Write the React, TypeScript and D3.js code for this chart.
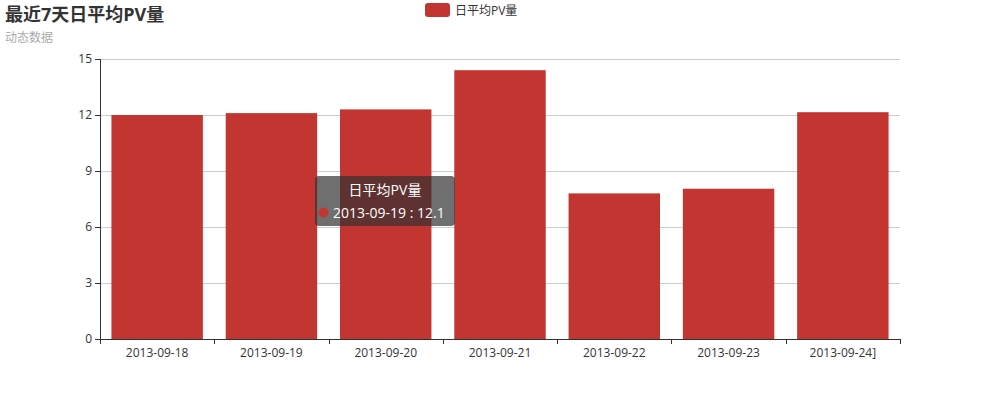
import * as d3 from 'd3';

const categories = ['2013-09-18', '2013-09-19', '2013-09-20', '2013-09-21', '2013-09-22', '2013-09-23', '2013-09-24]'];
const pvValues = [12.0, 12.1, 12.3, 14.4, 7.8, 8.05, 12.15];
const yTicks = [0, 3, 6, 9, 12, 15];

const seriesName = '日平均PV量';
const titleText = '最近7天日平均PV量';
const subText = '动态数据';
const barColor = '#c23531';
const font = '"Open Sans", "Noto Sans CJK SC", sans-serif';

const width = 998;
const height = 398;
const margin = { top: 59, right: 98, bottom: 59, left: 100 };

export default function App() {
  const x = d3.scaleBand<string>()
    .domain(categories)
    .range([margin.left, width - margin.right])
    .paddingInner(0.2)
    .paddingOuter(0.1);

  const y = d3.scaleLinear()
    .domain([0, 15])
    .range([height - margin.bottom, margin.top]);

  const step = x.step();
  const boundaries = d3.range(categories.length + 1).map(i => margin.left + i * step);

  // tooltip shown on second bar
  const tipIdx = 1;

  return (
    <svg
      width={width}
      height={height}
      style={{ position: 'absolute', left: 0, top: 0, fontFamily: font, background: '#fff' }}
    >
      {/* Title */}
      <text x={5} y={21} fontSize={18} fontWeight="bold" fill="#333">{titleText}</text>
      <text x={5} y={42} fontSize={12} fill="#aaa">{subText}</text>

      {/* Legend */}
      <rect x={425} y={3} width={25} height={14} rx={3} fill={barColor} />
      <text x={455} y={14.5} fontSize={12} fill="#333">{seriesName}</text>

      {/* Grid lines */}
      {yTicks.filter(t => t !== 0).map(t => (
        <line key={t} x1={margin.left} x2={width - margin.right} y1={y(t) + 0.5} y2={y(t) + 0.5} stroke="#ccc" />
      ))}

      {/* Bars */}
      {pvValues.map((v, i) => (
        <rect
          key={categories[i]}
          x={x(categories[i])}
          y={y(v)}
          width={x.bandwidth()}
          height={y(0) - y(v)}
          fill={barColor}
        />
      ))}

      {/* Y axis */}
      <line x1={margin.left + 0.5} x2={margin.left + 0.5} y1={y(15)} y2={y(0)} stroke="#333" />
      {yTicks.map(t => (
        <g key={t}>
          <line x1={margin.left - 5} x2={margin.left} y1={y(t) + 0.5} y2={y(t) + 0.5} stroke="#333" />
          <text x={margin.left - 8} y={y(t) + 4} fontSize={12} fill="#333" textAnchor="end">{t}</text>
        </g>
      ))}

      {/* X axis */}
      <line x1={margin.left} x2={width - margin.right} y1={y(0) + 0.5} y2={y(0) + 0.5} stroke="#333" />
      {boundaries.map((b, i) => (
        <line key={i} x1={Math.round(b) + 0.5} x2={Math.round(b) + 0.5} y1={y(0)} y2={y(0) + 5} stroke="#333" />
      ))}
      {categories.map(c => (
        <text key={c} x={(x(c) ?? 0) + x.bandwidth() / 2} y={y(0) + 18} fontSize={12} fill="#333" textAnchor="middle">{c}</text>
      ))}

      {/* Tooltip */}
      <g>
        <rect x={315} y={176} width={140} height={50} rx={4} fill="rgba(50,50,50,0.7)" />
        <text x={385} y={195} fontSize={14} fill="#fff" textAnchor="middle">{seriesName}</text>
        <circle cx={323.5} cy={212.5} r={5} fill={barColor} />
        <text x={333} y={217.5} fontSize={14} fill="#fff">{`${categories[tipIdx]} : ${pvValues[tipIdx]}`}</text>
      </g>
    </svg>
  );
}
